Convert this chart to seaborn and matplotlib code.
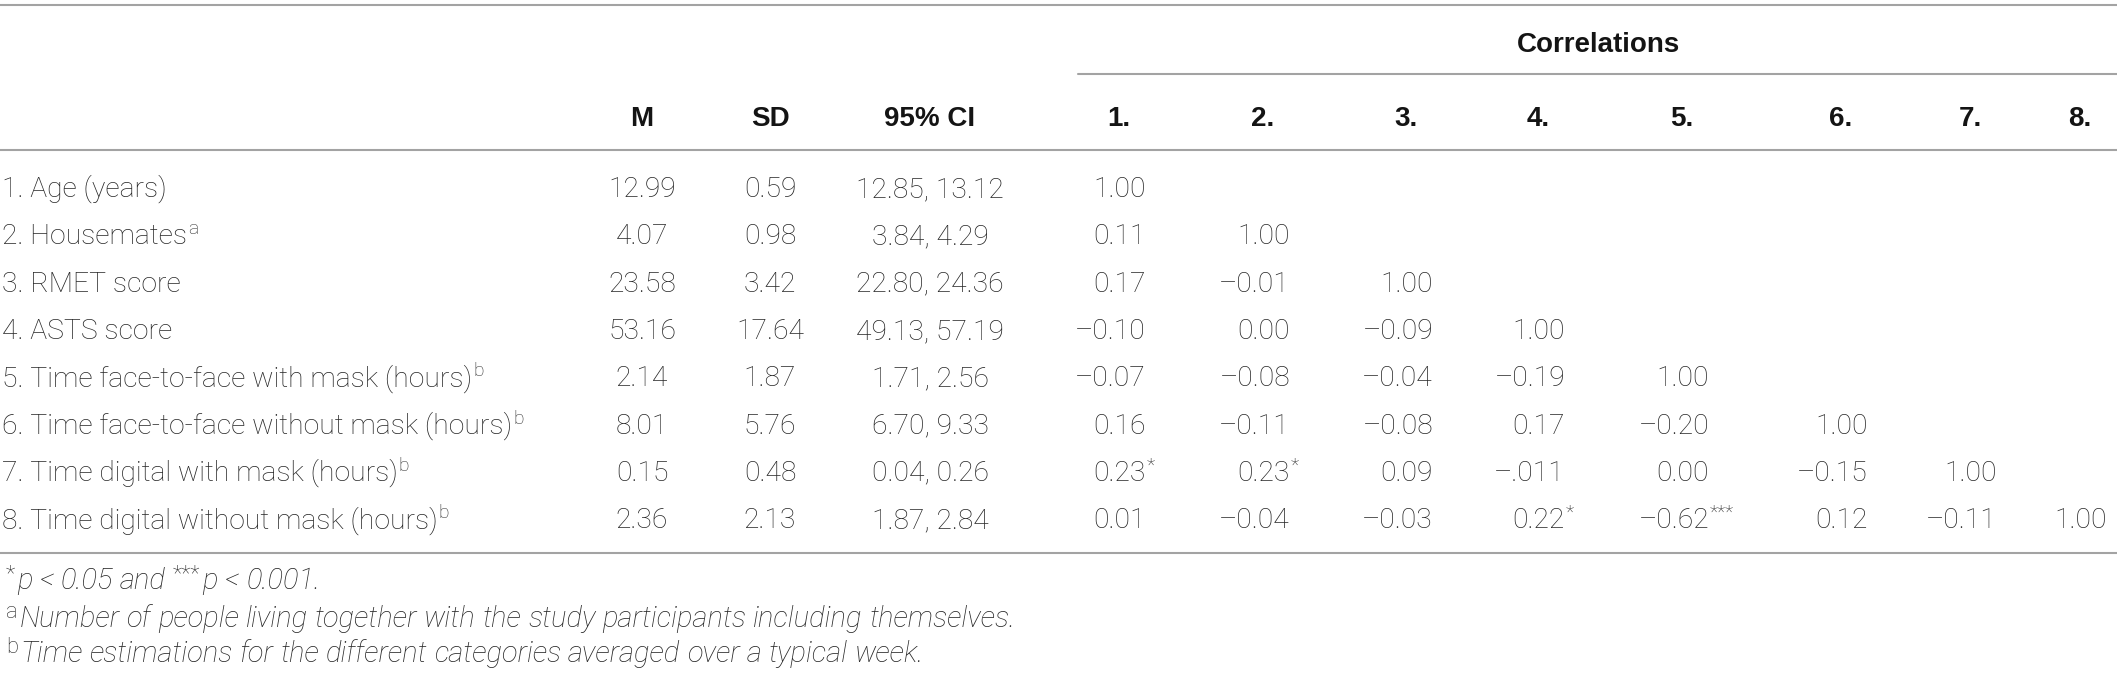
import matplotlib
matplotlib.use("Agg")
import matplotlib.pyplot as plt
import seaborn as sns

sns.set_theme(style="white")
plt.rcParams['font.family'] = ['Roboto', 'DejaVu Sans']

# table content
row_labels = ["1. Age (years)", "2. Housemates", "3. RMET score", "4. ASTS score",
              "5. Time face-to-face with mask (hours)",
              "6. Time face-to-face without mask (hours)",
              "7. Time digital with mask (hours)",
              "8. Time digital without mask (hours)"]
row_sup = ["", "a", "", "", "b", "b", "b", "b"]
means = ["12.99", "4.07", "23.58", "53.16", "2.14", "8.01", "0.15", "2.36"]
sds = ["0.59", "0.98", "3.42", "17.64", "1.87", "5.76", "0.48", "2.13"]
cis = ["12.85, 13.12", "3.84, 4.29", "22.80, 24.36", "49.13, 57.19",
       "1.71, 2.56", "6.70, 9.33", "0.04, 0.26", "1.87, 2.84"]
corr = [
    ["1.00"],
    ["0.11", "1.00"],
    ["0.17", "\u20130.01", "1.00"],
    ["\u20130.10", "0.00", "\u20130.09", "1.00"],
    ["\u20130.07", "\u20130.08", "\u20130.04", "\u20130.19", "1.00"],
    ["0.16", "\u20130.11", "\u20130.08", "0.17", "\u20130.20", "1.00"],
    ["0.23", "0.23", "0.09", "\u2013.011", "0.00", "\u20130.15", "1.00"],
    ["0.01", "\u20130.04", "\u20130.03", "0.22", "\u20130.62", "0.12", "\u20130.11", "1.00"],
]
stars = [
    [""], ["", ""], ["", "", ""], ["", "", "", ""], ["", "", "", "", ""],
    ["", "", "", "", "", ""],
    ["*", "*", "", "", "", "", ""],
    ["", "", "", "*", "***", "", "", ""],
]
stat_headers = ["M", "SD", "95% CI"]
corr_headers = ["1.", "2.", "3.", "4.", "5.", "6.", "7.", "8."]
group_header = "Correlations"
notes = [
    [("*", "sup"), ("p < 0.05 and", "it"), ("***", "sup"), ("p < 0.001.", "it")],
    [("a", "sup"), ("Number of people living together with the study participants including themselves.", "it")],
    [("b", "sup"), ("Time estimations for the different categories averaged over a typical week.", "it")],
]

# layout (pixels)
W, H = 2117, 676
stat_x = [642, 770, 930]
corr_right = [1146, 1290, 1433, 1565, 1709, 1868, 1997, 2107]
row_base0, row_dy = 197, 47.3
note_base = [589, 627, 662]
text_c = "#262626"
line_c = "#a3a3a3"
fs = 20.3
fs_note = 21
fs_head = 20
head_font = ['Liberation Sans Narrow', 'Liberation Sans', 'DejaVu Sans']

fig = plt.figure(figsize=(W / 100, H / 100), dpi=100)
ax = fig.add_axes([0, 0, 1, 1])
ax.set_xlim(0, W)
ax.set_ylim(H, 0)
ax.axis("off")
renderer = fig.canvas.get_renderer()

def width_of(t):
    return t.get_window_extent(renderer).width

lw = 1.5
ax.plot([0, W], [5, 5], color=line_c, lw=lw)
ax.plot([1078, W], [74, 74], color=line_c, lw=lw)
ax.plot([0, W], [150, 150], color=line_c, lw=lw)
ax.plot([0, W], [553, 553], color=line_c, lw=lw)

# headers
hkw = dict(ha="center", va="baseline", fontsize=fs_head, fontweight="bold",
           family=head_font, color="#141414")
ax.text(1598, 52, group_header, **hkw)
for x, h in zip(stat_x, stat_headers):
    ax.text(x, 126, h, **hkw)
for x, h in zip(corr_right, corr_headers):
    ax.text(x - 27, 126, h, **hkw)

# body rows
bkw = dict(va="baseline", fontsize=fs, fontweight="light", color=text_c)
skw = dict(ha="left", va="baseline", fontsize=fs * 0.68, fontweight="light", color=text_c)
for i, lab in enumerate(row_labels):
    base = row_base0 + row_dy * i
    t = ax.text(2, base, lab, ha="left", **bkw)
    if row_sup[i]:
        ax.text(2 + width_of(t) + 1, base - 10, row_sup[i], **skw)
    ax.text(stat_x[0], base, means[i], ha="center", **bkw)
    ax.text(stat_x[1], base, sds[i], ha="center", **bkw)
    ax.text(stat_x[2], base, cis[i], ha="center", **bkw)
    for j, val in enumerate(corr[i]):
        ax.text(corr_right[j], base, val, ha="right", **bkw)
        if stars[i][j]:
            ax.text(corr_right[j] + 1, base - 10, stars[i][j], **skw)

# footnotes
nkw = dict(ha="left", va="baseline", fontsize=fs_note, fontstyle="italic",
           fontweight="light", color=text_c)
t1 = ax.text(100, 300, "nn", **nkw)
t2 = ax.text(100, 300, "n n", **nkw)
space_w = width_of(t2) - width_of(t1)
t1.remove()
t2.remove()
for base, runs in zip(note_base, notes):
    x = 6
    for txt, kind in runs:
        if kind == "sup":
            t = ax.text(x, base - 9, txt, ha="left", va="baseline",
                        fontsize=fs_note * 0.75, fontweight="light", color=text_c)
            x += width_of(t) + 2
        else:
            words = txt.split(" ")
            for k, w in enumerate(words):
                t = ax.text(x, base, w, **nkw)
                x += width_of(t)
                if k < len(words) - 1:
                    x += space_w
            x += space_w

fig.savefig("out.png", dpi=100)
